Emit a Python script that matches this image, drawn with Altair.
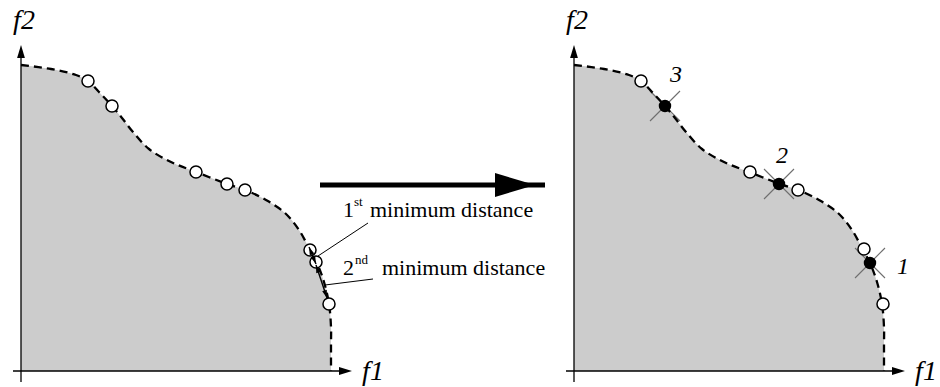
import math

import altair as alt
import pandas as pd

WIDTH, HEIGHT = 940, 387
FONT = "'Liberation Serif', 'Times New Roman', 'DejaVu Serif', serif"

# Each panel is drawn relative to its f2 axis; the f1 axis sits on one page row.
PANEL_X = {"left": 21, "right": 574}
AXIS_Y = 371

# Pareto front (dashed boundary of the dominated region)
curve_x = [0, 30, 55, 67, 78, 91, 101, 112, 128, 150, 175, 206, 224, 245,
           264, 278, 289, 296, 303, 308, 310, 310, 310]
curve_y = [65, 69, 75, 81, 92, 106, 118, 132, 149, 162, 172, 184, 190, 200,
           213, 230, 250, 263, 282, 304, 327, 345, 371]

# population before truncation (left panel)
pop_x = [67, 91, 175, 206, 224, 289, 295, 308]
pop_y = [81, 106, 172, 184, 190, 250, 262, 304]

# survivors (right panel)
keep_x = [67, 176, 224, 290, 309]
keep_y = [81, 172, 190, 249, 304]

# removed solutions, numbered in order of removal
drop_x = [296, 205, 91]
drop_y = [263, 184, 106]
drop_label = ["1", "2", "3"]
drop_label_x = [329, 208, 102]
drop_label_y = [274, 163, 82]
CROSS_HALF = 15

# distance annotations (page coordinates)
ann_num = ["1", "2"]
ann_sup = ["st", "nd"]
ann_rest = ["minimum distance", "minimum distance"]
ann_num_x = [343, 343]
ann_base_y = [217, 275]
ann_sup_x = [354, 355]
ann_rest_x = [370, 382]
leader_from = [(368, 223), (373, 279)]
leader_to = [(318, 256), (325, 285)]
dist_arrows = [((309, 247), (316, 264)), ((316, 265), (327, 298))]

# transition arrow between the panels
big_arrow_x = [320, 545]
big_arrow_y = 185
big_head_tip = 535

ARROW_SHAPE = "M1,0L-1,-0.6L-1,0.6Z"


def head(tip_x, tip_y, from_x, from_y, length):
    """Arrowhead centred so that its tip lands on (tip_x, tip_y)."""
    dx, dy = tip_x - from_x, tip_y - from_y
    n = math.hypot(dx, dy)
    ux, uy = dx / n, dy / n
    ang = math.degrees(math.atan2(uy, ux)) % 360
    return {"x": tip_x - ux * length / 2, "y": tip_y - uy * length / 2,
            "angle": ang, "size": length ** 2}


# ---- build tables -------------------------------------------------------
curve_rows, rule_rows, head_rows = [], [], []
open_rows, filled_rows = [], []
text_big, text_sup, axis_labels, num_labels = [], [], [], []

for panel, ox in PANEL_X.items():
    for i, (cx, cy) in enumerate(zip(curve_x, curve_y)):
        curve_rows.append({"panel": panel, "i": i, "x": ox + cx, "y": cy, "x0": ox})
    # axes
    rule_rows.append({"x": ox, "y": 382, "x2": ox, "y2": 52, "w": 1.3, "c": "black"})
    rule_rows.append({"x": ox - 8, "y": AXIS_Y, "x2": ox + 322, "y2": AXIS_Y, "w": 1.3, "c": "black"})
    head_rows.append(head(ox, 45, ox, 100, 13))
    head_rows.append(head(ox + 331, AXIS_Y, ox, AXIS_Y, 13))
    axis_labels.append({"x": ox + 3, "y": 29, "t": "f2"})
    axis_labels.append({"x": ox + 352, "y": 380, "t": "f1"})

left, right = PANEL_X["left"], PANEL_X["right"]
for px, py in zip(pop_x, pop_y):
    open_rows.append({"x": left + px, "y": py})
for px, py in zip(keep_x, keep_y):
    open_rows.append({"x": right + px, "y": py})
for px, py, lab, lx, ly in zip(drop_x, drop_y, drop_label, drop_label_x, drop_label_y):
    cx = right + px
    filled_rows.append({"x": cx, "y": py})
    rule_rows.append({"x": cx - CROSS_HALF, "y": py - CROSS_HALF, "x2": cx + CROSS_HALF,
                      "y2": py + CROSS_HALF, "w": 1.1, "c": "#6e6e6e"})
    rule_rows.append({"x": cx - CROSS_HALF, "y": py + CROSS_HALF, "x2": cx + CROSS_HALF,
                      "y2": py - CROSS_HALF, "w": 1.1, "c": "#6e6e6e"})
    num_labels.append({"x": right + lx, "y": ly, "t": lab})

ann_rule_rows, ann_head_rows = [], []
for (a, b) in dist_arrows:
    ann_rule_rows.append({"x": a[0], "y": a[1], "x2": b[0], "y2": b[1], "w": 1.4, "c": "black"})
    ann_head_rows.append(head(b[0], b[1], a[0], a[1], 8))
    ann_head_rows.append(head(a[0], a[1], b[0], b[1], 8))
for (a, b) in zip(leader_from, leader_to):
    ann_rule_rows.append({"x": a[0], "y": a[1], "x2": b[0], "y2": b[1], "w": 1.0, "c": "black"})
ann_rule_rows.append({"x": big_arrow_x[0], "y": big_arrow_y, "x2": big_arrow_x[1],
                      "y2": big_arrow_y, "w": 5, "c": "black"})
ann_head_rows.append(head(big_head_tip, big_arrow_y, big_arrow_x[0], big_arrow_y, 40))

for n, s, r, nx, by, sx, rx in zip(ann_num, ann_sup, ann_rest, ann_num_x, ann_base_y,
                                   ann_sup_x, ann_rest_x):
    text_big.append({"x": nx, "y": by, "t": n})
    text_big.append({"x": rx, "y": by, "t": r})
    text_sup.append({"x": sx, "y": by - 11, "t": s})

curve_df = pd.DataFrame(curve_rows)
rules_df = pd.DataFrame(rule_rows)
ann_rules_df = pd.DataFrame(ann_rule_rows)
heads_df = pd.DataFrame(head_rows)
ann_heads_df = pd.DataFrame(ann_head_rows)
open_df = pd.DataFrame(open_rows)
filled_df = pd.DataFrame(filled_rows)

# ---- encodings ----------------------------------------------------------
xs = alt.Scale(domain=[0, WIDTH], nice=False, zero=False)
ys = alt.Scale(domain=[0, HEIGHT], nice=False, zero=False, reverse=True)


def X(f, **kw):
    return alt.X(f, type="quantitative", scale=xs, axis=None, **kw)


def Y(f, **kw):
    return alt.Y(f, type="quantitative", scale=ys, axis=None, **kw)


def rule_layer(df):
    return alt.Chart(df).mark_rule().encode(
        x=X("x"), y=Y("y"), x2="x2:Q", y2="y2:Q",
        strokeWidth=alt.StrokeWidth("w:Q", scale=None),
        color=alt.Color("c:N", scale=None),
    )


def head_layer(df):
    return alt.Chart(df).mark_point(
        shape=ARROW_SHAPE, filled=True, color="black", opacity=1, strokeWidth=0
    ).encode(
        x=X("x"), y=Y("y"),
        angle=alt.Angle("angle:Q", scale=None),
        size=alt.Size("size:Q", scale=None),
    )


def text_layer(rows, size, italic=False, align="left"):
    kw = {"fontStyle": "italic"} if italic else {}
    return alt.Chart(pd.DataFrame(rows)).mark_text(
        font=FONT, fontSize=size, align=align, baseline="alphabetic", color="black", **kw
    ).encode(x=X("x"), y=Y("y"), text="t:N")


area = alt.Chart(curve_df).mark_area(
    orient="horizontal", interpolate="catmull-rom", color="#cccccc", opacity=1
).encode(x=X("x", stack=None), x2="x0:Q", y=Y("y"), detail="panel:N")

front = alt.Chart(curve_df).mark_line(
    interpolate="catmull-rom", color="black", strokeWidth=2.3, strokeDash=[8, 5]
).encode(x=X("x"), y=Y("y"), detail="panel:N", order="i:Q")

open_pts = alt.Chart(open_df).mark_point(
    shape="circle", filled=True, fill="white", stroke="black",
    strokeWidth=1.5, size=145, opacity=1
).encode(x=X("x"), y=Y("y"))

filled_pts = alt.Chart(filled_df).mark_point(
    shape="circle", filled=True, color="black", size=155, opacity=1
).encode(x=X("x"), y=Y("y"))

chart = alt.layer(
    area,
    rule_layer(rules_df),
    head_layer(heads_df),
    front,
    open_pts,
    filled_pts,
    rule_layer(ann_rules_df),
    head_layer(ann_heads_df),
    text_layer(text_big, 22),
    text_layer(text_sup, 13),
    text_layer(axis_labels, 28, italic=True, align="center"),
    text_layer(num_labels, 24, italic=True, align="center"),
).properties(
    width=WIDTH, height=HEIGHT, padding=0,
    autosize=alt.AutoSizeParams(type="none"), background="white",
).configure_view(stroke=None)

chart.save("out.html", embed_options={"renderer": "svg", "actions": False})
